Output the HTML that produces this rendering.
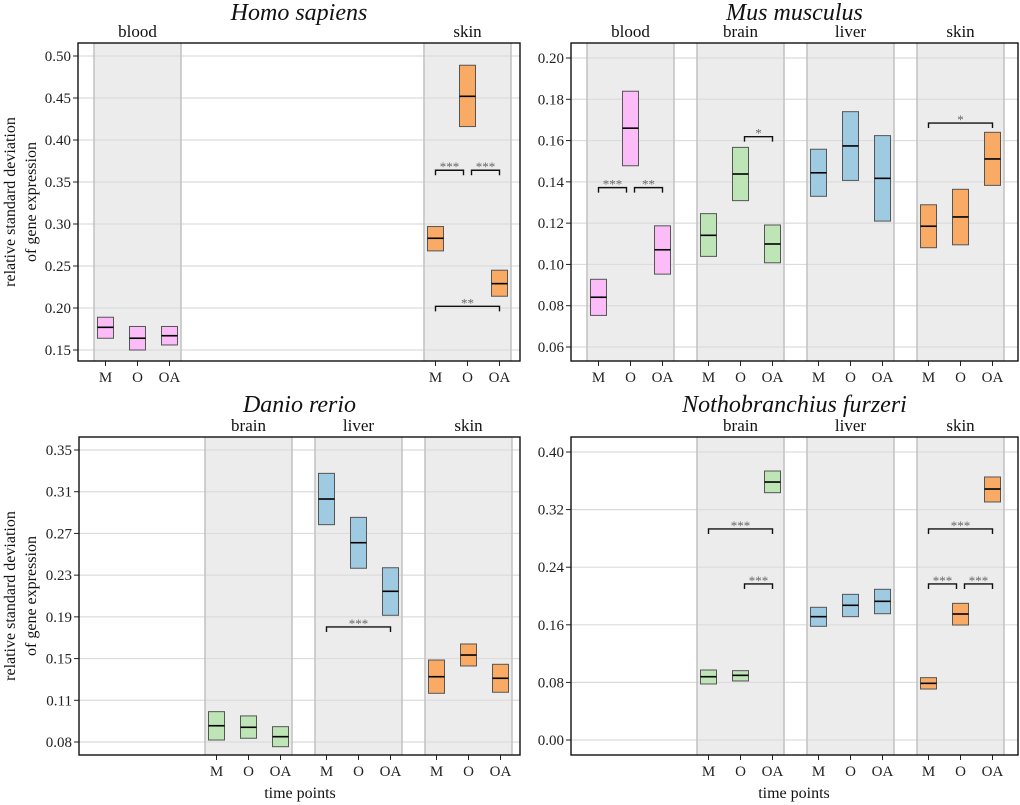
<!DOCTYPE html>
<html><head><meta charset="utf-8"><style>
body{margin:0;background:#fff;}
svg{display:block;font-family:"Liberation Serif",serif;}
</style></head><body>
<svg id="chart" width="1020" height="805" viewBox="0 0 1020 805" xmlns="http://www.w3.org/2000/svg"></svg>
<script>
// ---- data ----
const timepoints = ["M","O","OA"];
const tissues = ["blood","brain","liver","skin"];
const tissueColors = {blood:"#fbbcf8", brain:"#bde5b5", liver:"#9fcbe2", skin:"#f9ab66"};

// Homo sapiens: [low, median, high]
const hsTissues = ["blood","skin"];
const hsLow  = [[0.164,0.150,0.156],[0.268,0.416,0.214]];
const hsMid  = [[0.177,0.164,0.167],[0.283,0.452,0.229]];
const hsHigh = [[0.189,0.178,0.178],[0.297,0.489,0.245]];
const hsTicks = [0.15,0.20,0.25,0.30,0.35,0.40,0.45,0.50];
const hsTickLabels = ["0.15","0.20","0.25","0.30","0.35","0.40","0.45","0.50"];
const hsSig = [["skin",0,1,0.364,"***"],["skin",1,2,0.364,"***"],["skin",0,2,0.202,"**"]];

// Mus musculus
const mmTissues = ["blood","brain","liver","skin"];
const mmLow  = [[0.0753,0.1478,0.0953],[0.1039,0.1309,0.1008],[0.133,0.1407,0.121],[0.1081,0.1095,0.1383]];
const mmMid  = [[0.0841,0.166,0.1071],[0.1141,0.1438,0.1099],[0.1444,0.1574,0.1417],[0.1185,0.123,0.1511]];
const mmHigh = [[0.0928,0.1839,0.1187],[0.1246,0.1567,0.1191],[0.1558,0.174,0.1624],[0.1289,0.1364,0.164]];
const mmTicks = [0.06,0.08,0.10,0.12,0.14,0.16,0.18,0.20];
const mmTickLabels = ["0.06","0.08","0.10","0.12","0.14","0.16","0.18","0.20"];
const mmSig = [["blood",0,1,0.1372,"***"],["blood",1,2,0.1372,"**"],["brain",1,2,0.1619,"*"],["skin",0,2,0.1685,"*"]];

// Danio rerio
const drTissues = ["brain","liver","skin"];
const drLow  = [[0.0769,0.0786,0.0705],[0.2834,0.2416,0.1965],[0.1217,0.1479,0.1227]];
const drMid  = [[0.0906,0.0891,0.0801],[0.308,0.2661,0.2195],[0.1376,0.1584,0.1361]];
const drHigh = [[0.1041,0.1000,0.0897],[0.3326,0.2904,0.2421],[0.1536,0.169,0.1495]];
const drTicks = [0.075,0.115,0.155,0.195,0.235,0.275,0.315,0.355];
const drTickLabels = ["0.08","0.11","0.15","0.19","0.23","0.27","0.31","0.35"];
const drSig = [["liver",0,2,0.1853,"***"]];

// Nothobranchius furzeri
const nfTissues = ["brain","liver","skin"];
const nfLow  = [[0.0778,0.082,0.3435],[0.1579,0.1713,0.1754],[0.0708,0.1597,0.3306]];
const nfMid  = [[0.0879,0.0898,0.3583],[0.1713,0.1871,0.1926],[0.0787,0.175,0.3486]];
const nfHigh = [[0.0972,0.0963,0.3736],[0.1843,0.2023,0.2093],[0.0866,0.1898,0.3653]];
const nfTicks = [0.00,0.08,0.16,0.24,0.32,0.40];
const nfTickLabels = ["0.00","0.08","0.16","0.24","0.32","0.40"];
const nfSig = [["brain",0,2,0.2931,"***"],["brain",1,2,0.2167,"***"],["skin",0,2,0.2931,"***"],["skin",0,1,0.2167,"***"],["skin",1,2,0.2167,"***"]];

const svg = document.getElementById('chart');
const NS = "http://www.w3.org/2000/svg";
function mk(tag, attrs, parent){
  const e = document.createElementNS(NS, tag);
  for (const k in attrs) e.setAttribute(k, attrs[k]);
  (parent||svg).appendChild(e);
  return e;
}

function panel(cfg){
  const g = mk('g', {});
  
  
  const {L,R,T,B,t0,y0,t1,y1} = cfg;
  const yScale = v => y0 + (v - t0) * (y1 - y0) / (t1 - t0);
  const bandStart = ti => L + 16 + 110 * tissues.indexOf(ti);
  const xPos = (ti, j) => bandStart(ti) + 11.5 + 32 * j;

  cfg.tissues.forEach(ti => {
    const bx = bandStart(ti);
    const r = mk('rect', {x:bx, y:T, width:87, height:B-T, fill:'#ececec'}, g);
    
    
  });
  cfg.ticks.forEach((t,i) => {
    const y = yScale(t);
    const gl = mk('line', {x1:L, x2:R, y1:y, y2:y, stroke:'#dcdcdc', 'stroke-width':1.2}, g);
    
    
    mk('line', {x1:L-5, x2:L, y1:y, y2:y, stroke:'#222', 'stroke-width':1}, g);
    const tl = mk('text', {x:L-7, y:y+5, 'text-anchor':'end', 'font-size':15, fill:'#222'}, g);
    tl.textContent = cfg.tickLabels[i];
    
    
  });
  cfg.tissues.forEach(ti => {
    const bx = bandStart(ti);
    mk('line', {x1:bx, x2:bx, y1:T, y2:B, stroke:'#c4c4c4', 'stroke-width':1.6}, g);
    mk('line', {x1:bx+87, x2:bx+87, y1:T, y2:B, stroke:'#c4c4c4', 'stroke-width':1.6}, g);
    const sl = mk('text', {x:bx+43.5, y:T-6, 'text-anchor':'middle', 'font-size':17, fill:'#111'}, g);
    sl.textContent = ti;
    
    
    timepoints.forEach((tp, j) => {
      const x = xPos(ti, j);
      mk('line', {x1:x, x2:x, y1:B, y2:B+5, stroke:'#222', 'stroke-width':1}, g);
      const xl = mk('text', {x:x, y:B+21, 'text-anchor':'middle', 'font-size':15, fill:'#222'}, g);
      xl.textContent = tp;
      
      
    });
  });
  cfg.tissues.forEach((ti, i) => {
    timepoints.forEach((tp, j) => {
      const x = xPos(ti, j);
      const yh = yScale(cfg.high[i][j]), yl = yScale(cfg.low[i][j]), ym = yScale(cfg.mid[i][j]);
      const b = mk('rect', {x:x-8, y:yh, width:16, height:yl-yh, fill:tissueColors[ti], stroke:'#555', 'stroke-width':1}, g);
      
      
      const m = mk('line', {x1:x-8, x2:x+8, y1:ym, y2:ym, stroke:'#000', 'stroke-width':1.6}, g);
      
      
    });
  });
  cfg.sig.forEach(s => {
    const [ti,a,b,v,label] = s;
    let xa = xPos(ti,a), xb = xPos(ti,b);
    if (b - a === 1) { if (a === 0) xb -= 4; else xa += 4; }
    const y = yScale(v);
    const p = mk('path', {d:`M${xa},${y+5}V${y}H${xb}V${y+5}`, fill:'none', stroke:'#111', 'stroke-width':1.4}, g);
    
    
    const st = mk('text', {x:(xa+xb)/2, y:y+1, 'text-anchor':'middle', 'font-size':13, fill:'#666'}, g);
    st.textContent = label;
    
    
  });
  mk('rect', {x:L, y:T, width:R-L, height:B-T, fill:'none', stroke:'#111', 'stroke-width':1.4}, g);
  const tt = mk('text', {x:(L+R)/2, y:cfg.titleY, 'text-anchor':'middle', 'font-size':24, 'font-style':'italic', fill:'#111'}, g);
  tt.textContent = cfg.title;
  
  
}

panel({name:'panel-homo-sapiens', title:'Homo sapiens', titleY:20, L:78, R:520, T:43, B:361,
  t0:0.15, y0:350, t1:0.50, y1:56, tissues:hsTissues, low:hsLow, mid:hsMid, high:hsHigh,
  ticks:hsTicks, tickLabels:hsTickLabels, sig:hsSig});
panel({name:'panel-mus-musculus', title:'Mus musculus', titleY:20, L:571, R:1018, T:43, B:361,
  t0:0.06, y0:347, t1:0.20, y1:58, tissues:mmTissues, low:mmLow, mid:mmMid, high:mmHigh,
  ticks:mmTicks, tickLabels:mmTickLabels, sig:mmSig});
panel({name:'panel-danio-rerio', title:'Danio rerio', titleY:412, L:79, R:520, T:437, B:755,
  t0:0.075, y0:742, t1:0.355, y1:450, tissues:drTissues, low:drLow, mid:drMid, high:drHigh,
  ticks:drTicks, tickLabels:drTickLabels, sig:drSig});
panel({name:'panel-nothobranchius-furzeri', title:'Nothobranchius furzeri', titleY:412, L:571, R:1018, T:437, B:755,
  t0:0.0, y0:740, t1:0.40, y1:452, tissues:nfTissues, low:nfLow, mid:nfMid, high:nfHigh,
  ticks:nfTicks, tickLabels:nfTickLabels, sig:nfSig});

[[202,'y-axis-title-top'],[596,'y-axis-title-bottom']].forEach(([cy,nm]) => {
  const t = mk('text', {transform:`translate(15,${cy}) rotate(-90)`, 'text-anchor':'middle', 'font-size':16, fill:'#111'});
  t.textContent = 'relative standard deviation';
  
  
  const t2 = mk('text', {transform:`translate(36,${cy}) rotate(-90)`, 'text-anchor':'middle', 'font-size':16, fill:'#111'});
  t2.textContent = 'of gene expression';
  
  
});
[[300,'x-axis-title-left'],[794,'x-axis-title-right']].forEach(([cx,nm]) => {
  const t = mk('text', {x:cx, y:798, 'text-anchor':'middle', 'font-size':16, fill:'#111'});
  t.textContent = 'time points';
  
  
});
</script>
</body></html>
